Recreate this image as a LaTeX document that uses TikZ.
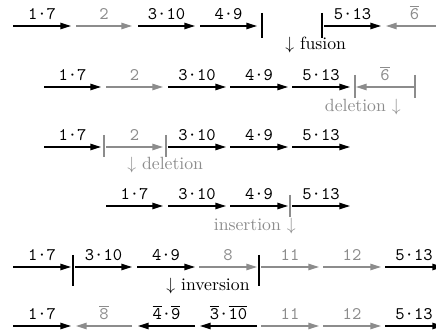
\documentclass[tikz,border=0pt]{standalone}
\usepackage{fontspec}
\usetikzlibrary{arrows.meta}
\definecolor{mgray}{gray}{0.55}
\newcommand{\ob}[1]{$\overline{\hbox{\texttt{#1}}}$}
\begin{document}
\begin{tikzpicture}[x=0.565pt,y=-0.565pt,
  seg/.style={line width=0.75pt,-{Triangle[length=6pt,width=3.6pt]}},
  gseg/.style={seg,mgray},
  lab/.style={anchor=base,yshift=3.6pt,font=\ttfamily,inner sep=0pt},
  vbar/.style={line width=0.75pt},
  gbar/.style={vbar,mgray},
  note/.style={font=\rmfamily,inner sep=0pt},
  gnote/.style={note,mgray}]
\useasboundingbox (0,0) rectangle (436,333);
\clip (0,0) rectangle (436,333);
% ---------- row 1
\coordinate (a1) at (13,26);  \coordinate (a2) at (71,26);
\coordinate (a3) at (76,26);  \coordinate (a4) at (132,26);
\coordinate (a5) at (138,26); \coordinate (a6) at (195,26);
\coordinate (a7) at (200,26); \coordinate (a8) at (257,26);
\coordinate (a9) at (262,13); \coordinate (a10) at (262,38);
\coordinate (a11) at (322,13); \coordinate (a12) at (322,38);
\coordinate (a13) at (324,26); \coordinate (a14) at (381,26);
\coordinate (a15) at (443,26); \coordinate (a16) at (386,26);
\draw[seg] (a1) -- node[lab]{1·7} (a2);
\draw[gseg] (a3) -- node[lab]{2} (a4);
\draw[seg] (a5) -- node[lab]{3·10} (a6);
\draw[seg] (a7) -- node[lab]{4·9} (a8);
\draw[vbar] (a9) -- (a10);
\draw[vbar] (a11) -- (a12);
\draw[seg] (a13) -- node[lab]{5·13} (a14);
\draw[gseg] (a15) -- node[lab]{\ob{6}} (a16);
\node[note,anchor=west] (n1) at (285,45) {$\downarrow$ fusion};
% ---------- row 2
\coordinate (b1) at (44,87);  \coordinate (b2) at (101,87);
\coordinate (b3) at (106,87); \coordinate (b4) at (163,87);
\coordinate (b5) at (168,87); \coordinate (b6) at (226,87);
\coordinate (b7) at (230,87); \coordinate (b8) at (288,87);
\coordinate (b9) at (292,87); \coordinate (b10) at (350,87);
\coordinate (b11) at (355,75); \coordinate (b12) at (355,98);
\coordinate (b13) at (414,87); \coordinate (b14) at (356,87);
\coordinate (b15) at (415,75); \coordinate (b16) at (415,98);
\draw[seg] (b1) -- node[lab]{1·7} (b2);
\draw[gseg] (b3) -- node[lab]{2} (b4);
\draw[seg] (b5) -- node[lab]{3·10} (b6);
\draw[seg] (b7) -- node[lab]{4·9} (b8);
\draw[seg] (b9) -- node[lab]{5·13} (b10);
\draw[gbar] (b11) -- (b12);
\draw[gseg] (b13) -- node[lab]{\ob{6}} (b14);
\draw[gbar] (b15) -- (b16);
\node[gnote,anchor=east] (n2) at (401,107) {deletion $\downarrow$};
% ---------- row 3
\coordinate (c1) at (44,147);  \coordinate (c2) at (101,147);
\coordinate (c3) at (104,135); \coordinate (c4) at (104,157);
\coordinate (c5) at (106,147); \coordinate (c6) at (163,147);
\coordinate (c7) at (166,135); \coordinate (c8) at (166,157);
\coordinate (c9) at (168,147); \coordinate (c10) at (226,147);
\coordinate (c11) at (230,147); \coordinate (c12) at (288,147);
\coordinate (c13) at (292,147); \coordinate (c14) at (350,147);
\draw[seg] (c1) -- node[lab]{1·7} (c2);
\draw[gbar] (c3) -- (c4);
\draw[gseg] (c5) -- node[lab]{2} (c6);
\draw[gbar] (c7) -- (c8);
\draw[seg] (c9) -- node[lab]{3·10} (c10);
\draw[seg] (c11) -- node[lab]{4·9} (c12);
\draw[seg] (c13) -- node[lab]{5·13} (c14);
\node[gnote,anchor=west] (n3) at (127,165) {$\downarrow$ deletion};
% ---------- row 4
\coordinate (d1) at (106,206); \coordinate (d2) at (163,206);
\coordinate (d3) at (168,206); \coordinate (d4) at (226,206);
\coordinate (d5) at (230,206); \coordinate (d6) at (288,206);
\coordinate (d7) at (290,195); \coordinate (d8) at (290,217);
\coordinate (d9) at (292,206); \coordinate (d10) at (350,206);
\draw[seg] (d1) -- node[lab]{1·7} (d2);
\draw[seg] (d3) -- node[lab]{3·10} (d4);
\draw[seg] (d5) -- node[lab]{4·9} (d6);
\draw[gbar] (d7) -- (d8);
\draw[seg] (d9) -- node[lab]{5·13} (d10);
\node[gnote,anchor=east] (n4) at (296,226) {insertion $\downarrow$};
% ---------- row 5
\coordinate (e1) at (13,267);  \coordinate (e2) at (71,267);
\coordinate (e3) at (73,255);  \coordinate (e4) at (73,286);
\coordinate (e5) at (75,267);  \coordinate (e6) at (132,267);
\coordinate (e7) at (137,267); \coordinate (e8) at (195,267);
\coordinate (e9) at (199,267); \coordinate (e10) at (257,267);
\coordinate (e11) at (259,255); \coordinate (e12) at (259,286);
\coordinate (e13) at (261,267); \coordinate (e14) at (319,267);
\coordinate (e15) at (323,267); \coordinate (e16) at (381,267);
\coordinate (e17) at (385,267); \coordinate (e18) at (443,267);
\draw[seg] (e1) -- node[lab]{1·7} (e2);
\draw[vbar] (e3) -- (e4);
\draw[seg] (e5) -- node[lab]{3·10} (e6);
\draw[seg] (e7) -- node[lab]{4·9} (e8);
\draw[gseg] (e9) -- node[lab]{8} (e10);
\draw[vbar] (e11) -- (e12);
\draw[gseg] (e13) -- node[lab]{11} (e14);
\draw[gseg] (e15) -- node[lab]{12} (e16);
\draw[seg] (e17) -- node[lab]{5·13} (e18);
\node[note,anchor=west] (n5) at (166,286) {$\downarrow$ inversion};
% ---------- row 6
\coordinate (f1) at (13,326);  \coordinate (f2) at (71,326);
\coordinate (f3) at (132,326); \coordinate (f4) at (76,326);
\coordinate (f5) at (195,326); \coordinate (f6) at (138,326);
\coordinate (f7) at (257,326); \coordinate (f8) at (200,326);
\coordinate (f9) at (261,326); \coordinate (f10) at (319,326);
\coordinate (f11) at (323,326); \coordinate (f12) at (381,326);
\coordinate (f13) at (385,326); \coordinate (f14) at (443,326);
\draw[seg] (f1) -- node[lab]{1·7} (f2);
\draw[gseg] (f3) -- node[lab]{\ob{8}} (f4);
\draw[seg] (f5) -- node[lab]{\ob{4}·\ob{9}} (f6);
\draw[seg] (f7) -- node[lab]{\ob{3}·\ob{10}} (f8);
\draw[gseg] (f9) -- node[lab]{11} (f10);
\draw[gseg] (f11) -- node[lab]{12} (f12);
\draw[seg] (f13) -- node[lab]{5·13} (f14);
\end{tikzpicture}
\end{document}
